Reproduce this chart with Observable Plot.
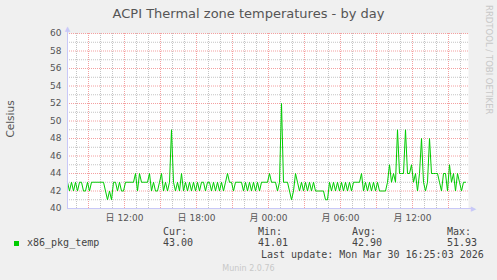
<!DOCTYPE html>
<html><head><meta charset="utf-8">
<script src="https://cdn.jsdelivr.net/npm/d3@7"></script>
<script src="https://cdn.jsdelivr.net/npm/@observablehq/plot@0.6"></script>
<style>
body{margin:0;background:#f0f0f0;}
#wrap{position:relative;width:497px;height:280px;background:#f0f0f0;overflow:hidden;font-family:"DejaVu Sans","Noto Sans CJK JP",sans-serif;}
#chart{position:absolute;left:0;top:0;}
.t{position:absolute;white-space:pre;line-height:1;}
.mono{font-family:"DejaVu Sans Mono",monospace;font-size:10px;color:#444;}
</style></head><body>
<div id="wrap"><div id="chart"></div></div>
<script>
const titleText = "ACPI Thermal zone temperatures - by day";
const yLabel = "Celsius";
const sideText = "RRDTOOL / TOBI OETIKER";
const seriesName = "x86_pkg_temp";
const startTime = "2026-03-29T07:15:00Z";
const endTime = "2026-03-30T16:40:00Z";
const stepMinutes = 10;
const temps = [
  43,42,43,42,43,42,43,43,42,42,43,42,43,
  43,43,43,43,43,43,
  42,41,42,41,
  43,43,42,43,42,42,43,43,43,43,43,
  44,42,44,43,
  43,43,43,44,
  42,43,42,42,43,44,
  42,43,42,43,49,
  43,42,43,42,44,
  42,43,42,43,42,43,42,43,42,
  43,43,42,43,43,
  42,43,42,43,42,43,42,43,44,
  43,43,42,43,43,43,43,
  42,43,42,43,42,43,42,43,42,
  43,43,43,43,44,
  43,43,43,42,43,52,
  43,43,43,
  42,41,42,44,
  43,42,43,42,43,42,43,42,43,42,
  42,42,42,42,41,41,
  43,42,43,42,43,42,43,42,43,42,43,42,
  43,43,43,43,44,
  42,43,42,43,42,43,42,43,42,42,
  42,42,43,
  45,43,44,43,49,
  44,44,44,49,44,44,
  45,43,44,42,44,48,
  43,42,43,48,
  44,44,44,44,
  43,42,44,44,42,45,
  43,44,42,44,43,42,43,43
];
const yTicks = [40,42,44,46,48,50,52,54,56,58,60];
const yMinor = [41,43,45,47,49,51,53,55,57,59];
const dayNames = ["日","月","火","水","木","金","土"];
const statLabels = ["Cur:","Min:","Avg:","Max:"];
const statValues = ["43.00","41.01","42.90","51.93"];
const lastUpdate = "Last update: Mon Mar 30 16:25:03 2026";
const version = "Munin 2.0.76";

const x0 = new Date(startTime), x1 = new Date(endTime);
const data = temps.map((v,i)=>({t:new Date(+x0 + i*stepMinutes*60000), v}));
const hours = d3.utcHour.range(x0, x1);
const minorX = hours.filter(d=>d.getUTCHours()%3!==0);
const majorX = hours.filter(d=>d.getUTCHours()%3===0);
const fmtHM = d3.utcFormat("%H:%M");
const axisCol = "#c8c8f8";

const chart = Plot.plot({
  width:497, height:280,
  marginLeft:67, marginRight:29, marginTop:33, marginBottom:72,
  style:{background:"transparent", fontFamily:"DejaVu Sans, Noto Sans CJK JP, sans-serif", fontSize:"9px", color:"#555", overflow:"visible"},
  x:{type:"utc", domain:[x0,x1]},
  y:{domain:[40,60]},
  marks:[
    Plot.frame({fill:"white", stroke:null}),
    Plot.ruleY(yMinor,{stroke:"#c4c4c4", strokeDasharray:"1,1"}),
    Plot.ruleX(minorX,{stroke:"#c4c4c4", strokeDasharray:"1,1"}),
    Plot.ruleY(yTicks.filter(d=>d>40),{stroke:"#f4a0a0", strokeDasharray:"1,1"}),
    Plot.ruleX(majorX,{stroke:"#f4a0a0", strokeDasharray:"1,1"}),
    Plot.axisY({ticks:yTicks, tickSize:0, tickPadding:6, label:null, fill:"#555"}),
    Plot.axisX({ticks:d3.utcHour.every(6), tickSize:0, tickPadding:6, label:null, fill:"#555",
      tickFormat:d=>dayNames[d.getUTCDay()]+" "+fmtHM(d)}),
    Plot.lineY(data,{x:"t", y:"v", stroke:"#00cc00", strokeWidth:1}),
    Plot.ruleX([x0],{y1:40, y2:60.4, stroke:axisCol}),
    Plot.ruleY([40],{x1:x0, x2:new Date(+x1 + 20*60000), stroke:axisCol}),
    Plot.text([0],{x:()=>x0, y:()=>60.55, text:()=>"▲", fill:axisCol, fontSize:7}),
    Plot.text([0],{x:()=>new Date(+x1 + 25*60000), y:()=>40, text:()=>"▶", fill:axisCol, fontSize:7})
  ]
});
document.getElementById("chart").appendChild(chart);

const wrap = document.getElementById("wrap");
function addText(txt, css, cls){
  const d = document.createElement("div");
  d.className = "t" + (cls ? " " + cls : "");
  d.textContent = txt;
  d.style.cssText += css;
  wrap.appendChild(d);
  return d;
}
addText(titleText, "left:0;width:497px;text-align:center;top:7px;font-size:13px;color:#555;");
addText(yLabel, "left:10px;top:119px;font-size:10.5px;color:#555;transform:translate(-50%,-50%) rotate(-90deg);");
addText(sideText, "left:484px;top:5px;font-size:8.5px;color:#c8c8c8;writing-mode:vertical-rl;");
const sw = document.createElement("div");
sw.style.cssText = "position:absolute;left:14px;top:241px;width:5px;height:5px;background:#00cc00;";
wrap.appendChild(sw);
addText(seriesName, "left:27px;top:238px;", "mono");
const statX = [163,258,352,447];
statLabels.forEach((s,i)=>{
  addText(s, `left:${statX[i]}px;top:227px;`, "mono");
  addText(statValues[i], `left:${statX[i]}px;top:238px;`, "mono");
});
addText(lastUpdate, "left:261px;top:250px;", "mono");
addText(version, "left:0;width:497px;text-align:center;top:265px;font-size:8px;color:#c8c8c8;");
</script>
</body></html>
